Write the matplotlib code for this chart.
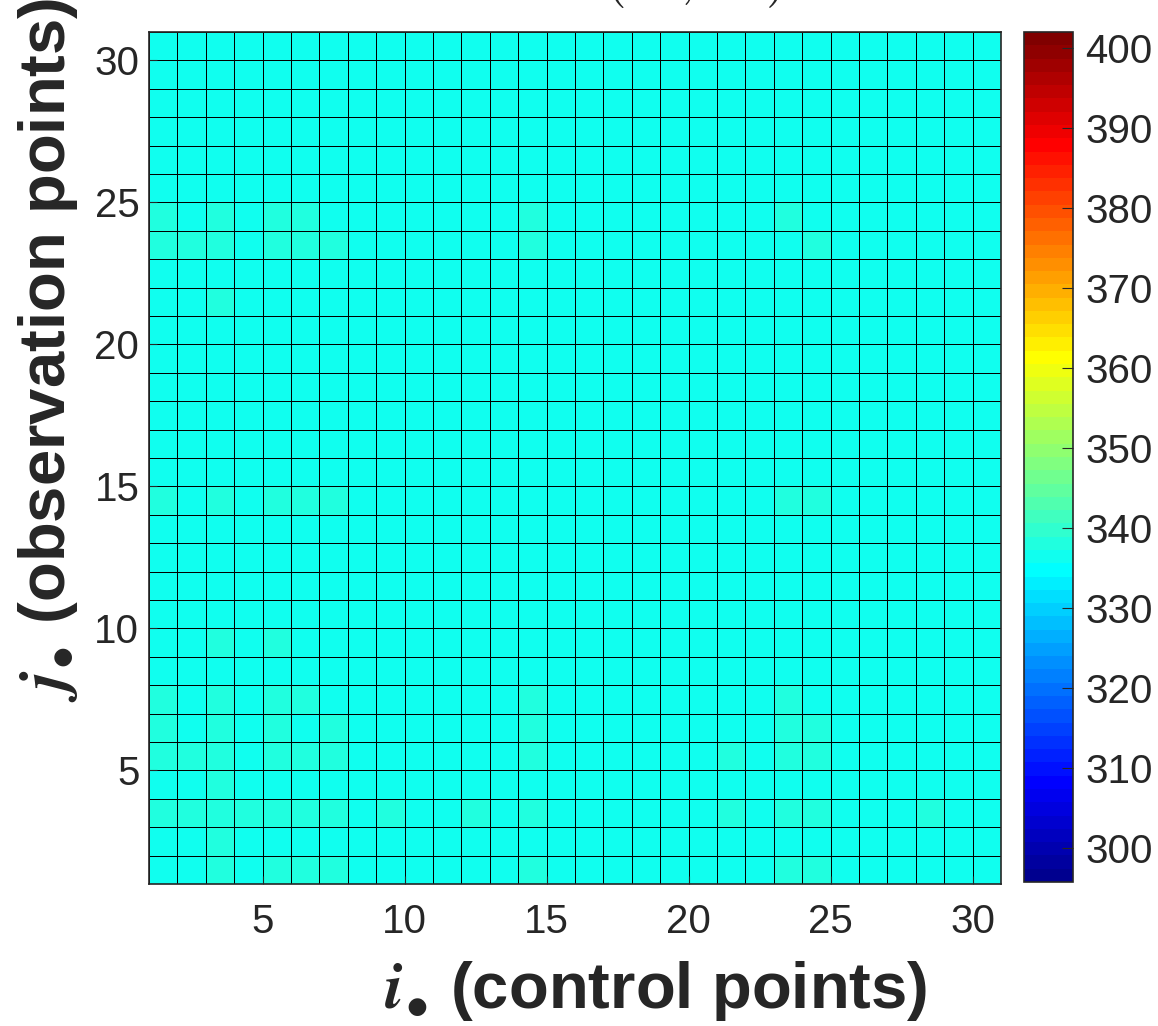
import numpy as np
import matplotlib
matplotlib.use('Agg')
import matplotlib.pyplot as plt
from matplotlib.colors import ListedColormap, Normalize

# two colour levels seen in the grid (cyan / slightly greener cyan)
base_value = 336.5
high_value = 338.0
c_min, c_max = 295.8, 402.0
n_cells = 30

# greener cells: row j -> list of columns i
high_cells = {
    24: [1, 3, 5, 6, 14, 23],
    23: [1, 2, 3, 5, 6, 7, 14, 24],
    21: [3],
    14: [1, 3, 5, 6, 7, 23, 24],
    9: [3, 5],
    7: [1, 3, 5, 6, 14, 23],
    6: [1, 3, 5, 7, 14, 23, 24],
    5: [1, 2, 3, 5, 6, 7, 14, 21, 23, 24],
    4: [3],
    3: [1, 2, 3, 4, 5, 6, 7, 9, 12, 14, 21, 23, 24, 28],
    2: [3],
    1: [3, 5, 6, 7, 14, 23, 24],
}
cbar_ticks = list(range(300, 401, 10))
axis_ticks = [5, 10, 15, 20, 25, 30]


def matlab_jet(n=64):
    m = int(np.ceil(n / 4))
    u = np.concatenate([np.arange(1, m + 1) / m, np.ones(m - 1), np.arange(m, 0, -1) / m])
    g = int(np.ceil(m / 2)) - int(n % 4 == 1) + np.arange(1, len(u) + 1)
    r = g + m
    b = g - m
    rgb = np.zeros((n, 3))
    gk = g[g <= n]
    rk = r[r <= n]
    bk = b[b >= 1]
    rgb[rk - 1, 0] = u[:len(rk)]
    rgb[gk - 1, 1] = u[:len(gk)]
    rgb[bk - 1, 2] = u[-len(bk):]
    return ListedColormap(rgb)


values = np.full((n_cells, n_cells), base_value)
for j, cols in high_cells.items():
    for i in cols:
        values[j - 1, i - 1] = high_value

plt.rcParams['font.family'] = ['Liberation Sans', 'DejaVu Sans']
plt.rcParams['mathtext.fontset'] = 'cm'
txt = '#262626'

fig = plt.figure(figsize=(11.58, 10.26), dpi=100)
ax = fig.add_axes([149 / 1158, 1 - 884 / 1026, 852 / 1158, 852 / 1026])
cax = fig.add_axes([1024 / 1158, 1 - 882 / 1026, 49 / 1158, 850 / 1026])

edges = np.arange(1, n_cells + 2)
mesh = ax.pcolormesh(edges, edges, values, cmap=matlab_jet(64),
                     norm=Normalize(c_min, c_max), edgecolors='k', linewidth=0.72)
ax.set_xlim(1, n_cells + 1)
ax.set_ylim(1, n_cells + 1)
ax.set_xticks(axis_ticks)
ax.set_yticks(axis_ticks)
ax.tick_params(direction='in', length=6, labelsize=29, colors=txt)
ax.tick_params(axis='x', pad=14)
ax.tick_params(axis='y', pad=7)
for s in ax.spines.values():
    s.set_color(txt)
    s.set_linewidth(1.2)

cb = fig.colorbar(mesh, cax=cax, ticks=cbar_ticks)
cb.ax.tick_params(direction='in', length=8, labelsize=29, colors=txt, pad=9)
cb.outline.set_edgecolor(txt)
cb.outline.set_linewidth(1.2)

fig.text(656 / 1158, 1 - 1008 / 1026, r'$\boldsymbol{i}_{\bullet}$ (control points)',
         ha='center', va='baseline', fontsize=47, fontweight='bold', color=txt)
fig.text(48 / 1158, 1 - 350 / 1026, r'$\boldsymbol{j}_{\bullet}$ (observation points)',
         ha='center', va='center', rotation=90, fontsize=47, fontweight='bold', color=txt)
# title sits mostly above the figure, only its lower edge shows (as in the reference)
fig.text(694 / 1158, 1.006, r'$(M,\ N)$', ha='center', va='baseline', fontsize=40, color=txt)

fig.savefig('out.png', dpi=100)
